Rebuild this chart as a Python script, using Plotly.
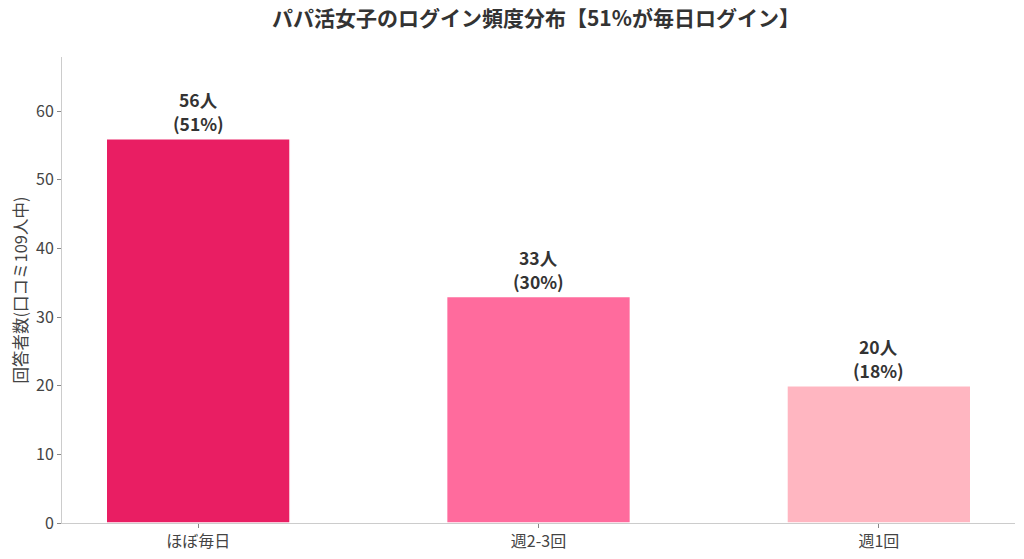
import plotly.graph_objects as go

categories = ["ほぼ毎日", "週2-3回", "週1回"]
counts = [56, 33, 20]
percents = [51, 30, 18]
colors = ["#E91E63", "#FF6B9D", "#FFB6C1"]
yticks = [0, 10, 20, 30, 40, 50, 60]

FONT = "Noto Sans CJK JP"
W, H = 1016, 551  # page body has an 8px margin

fig = go.Figure()
fig.add_trace(go.Bar(
    x=list(range(len(categories))),
    y=counts,
    width=0.54,
    marker=dict(color=colors, line=dict(color="white", width=1.5)),
    hoverinfo="skip",
))

for i, (c, p) in enumerate(zip(counts, percents)):
    fig.add_annotation(
        x=i, y=c, xref="x", yref="y",
        text=f"<b>({p}%)</b>",
        showarrow=False, yanchor="bottom", xanchor="center", yshift=1,
        font=dict(family=FONT, size=17.5, color="#333333"),
    )
    fig.add_annotation(
        x=i, y=c, xref="x", yref="y",
        text=f"<b>{c}人</b>",
        showarrow=False, yanchor="bottom", xanchor="center", yshift=25,
        font=dict(family=FONT, size=17.5, color="#333333"),
    )

fig.update_layout(
    width=W, height=H,
    margin=dict(l=54, r=9, t=49, b=36, autoexpand=False),
    paper_bgcolor="white", plot_bgcolor="white",
    font=dict(family=FONT, color="#444444", size=12),
    title=dict(text="<b>パパ活女子のログイン頻度分布【51%が毎日ログイン】</b>",
               x=528 / W, xanchor="center", y=1 - 11 / H, yanchor="middle",
               font=dict(family=FONT, size=21, color="#333333")),
    showlegend=False,
)
fig.update_xaxes(
    range=[-0.4, 2.4], automargin=False,
    tickmode="array", tickvals=list(range(len(categories))), ticktext=categories,
    showgrid=False, zeroline=False,
    showline=True, linecolor="#CCCCCC", linewidth=1,
    ticks="outside", ticklen=4, tickcolor="#888888",
    tickfont=dict(family=FONT, size=16, color="#444444"),
)
fig.update_yaxes(
    range=[0, 67.9], automargin=False,
    tickmode="array", tickvals=yticks,
    showgrid=False, zeroline=False,
    showline=True, linecolor="#CCCCCC", linewidth=1,
    ticks="outside", ticklen=4, tickcolor="#888888",
    tickfont=dict(family=FONT, size=16, color="#444444"),
    title=dict(text="回答者数(口コミ109人中)", font=dict(family=FONT, size=16.5, color="#444444"), standoff=8),
)

fig.write_html("out.html")
